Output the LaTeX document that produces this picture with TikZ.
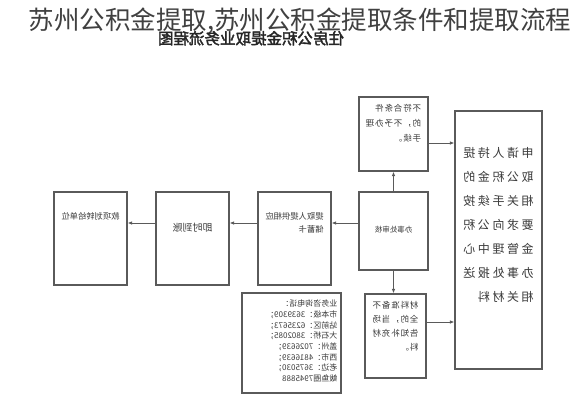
\documentclass[tikz,border=0pt]{standalone}
\usepackage{graphicx}
\usepackage{fontspec}
\setmainfont{Noto Sans CJK SC}
\newfontfamily\headfont{Noto Sans CJK SC}[FakeBold=2.5]
\newfontfamily\widefont{Noto Sans CJK SC}[LetterSpace=21]
\newfontfamily\boxfont{Noto Sans CJK SC}[LetterSpace=10]
\usetikzlibrary{arrows.meta}
\definecolor{boxgray}{HTML}{5A5A5A}
\definecolor{inkgray}{HTML}{3A3A3A}
% the scan is mirrored: set each text block reflected
\newcommand{\flip}[1]{\reflectbox{\begin{tabular}{@{}l@{}}#1\end{tabular}}}

\begin{document}
\begin{tikzpicture}[x=1pt,y=-1pt]
	\tikzstyle{box} = [rectangle, draw=boxgray, line width=1.1pt, inner sep=0pt, text=inkgray]
	\tikzstyle{label} = [inner sep=0pt, text=inkgray]
	\tikzstyle{arr} = [-{Latex[length=4.5pt,width=3.5pt]}, draw=boxgray, line width=0.9pt]
	\useasboundingbox (0,0) rectangle (576,400);

	% page heading on top of the mirrored scan
	\node (pagetitle) [text=black!75] at (300,21) {\fontsize{25.5}{26}\selectfont 苏州公积金提取,苏州公积金提取条件和提取流程};
	\node (charttitle) [label, text=black!85] at (251,40) {\headfont\fontsize{15.5}{16}\selectfont\flip{住房公积金提取业务流程图}};

	% boxes
	\node (apply) [box, minimum width=87pt, minimum height=258pt] at (498.5,240) {};
	\node (applytext) [label] at ([yshift=15pt]apply.center) {\widefont\fontsize{12}{24}\selectfont\flip{申请人持提\\取公积金的\\相关手续按\\要求向公积\\金管理中心\\办事处报送\\相关材料}};
	\node (nomatch) [box, minimum width=69pt, minimum height=74pt] at (393.5,134) {};
	\node (nomatchtext) [label] at ([yshift=11pt]nomatch.center) {\boxfont\fontsize{8.5}{15}\selectfont\flip{不符合条件\\的，不予办理\\手续。}};
	\node (audit) [box, minimum width=69pt, minimum height=78pt] at (393.5,231) {\fontsize{7.5}{9}\selectfont\flip{办事处审核}};
	\node (lack) [box, minimum width=61pt, minimum height=84pt] at (395.5,336) {};
	\node (lacktext) [label] at ([yshift=9pt]lack.center) {\boxfont\fontsize{8.5}{14}\selectfont\flip{材料准备不\\全的，当场\\告知补充材\\料。}};
	\node (card) [box, minimum width=73pt, minimum height=93pt] at (294.5,238.5) {};
	\node (cardtext) [label] at ([yshift=15pt]card.center) {\fontsize{8.3}{13}\selectfont\flip{提取人提供相应\\储蓄卡}};
	\node (cash) [box, minimum width=73pt, minimum height=93pt] at (192.5,238.5) {};
	\node (cashtext) [label] at ([yshift=9.5pt]cash.center) {\fontsize{10}{12}\selectfont\flip{即时到账}};
	\node (unit) [box, minimum width=73pt, minimum height=93pt] at (90.5,238.5) {};
	\node (unittext) [label] at ([yshift=21.5pt]unit.center) {\fontsize{8.3}{10}\selectfont\flip{款项划转给单位}};
	\node (contact) [box, minimum width=99pt, minimum height=100pt] at (291.5,343) {};
	\node (contacttext) [label, anchor=east] at ([xshift=-4pt,yshift=1pt]contact.east) {\fontsize{8}{10.7}\selectfont\flip{业务咨询电话：\\市本级：3639309；\\站前区：6235673；\\大石桥：3802085；\\盖州：7026639；\\西市：4816639；\\老边：3675030；\\鲅鱼圈7945888}};

	% flow
	\draw[arr] (audit.north) -- (nomatch.south);
	\draw[arr] (audit.south) -- (audit.south |- lack.north);
	\draw[arr] ([yshift=-9pt]nomatch.east) -- ([yshift=-9pt]nomatch.east -| apply.west);
	\draw[arr] ([yshift=14pt]lack.east) -- ([yshift=14pt]lack.east -| apply.west);
	\draw[arr] ([yshift=8pt]audit.west) -- ([yshift=8pt]audit.west -| card.east);
	\draw[arr] ([yshift=15.5pt]card.west) -- ([yshift=15.5pt]card.west -| cash.east);
	\draw[arr] ([yshift=15.5pt]cash.west) -- ([yshift=15.5pt]cash.west -| unit.east);
\end{tikzpicture}
\end{document}
